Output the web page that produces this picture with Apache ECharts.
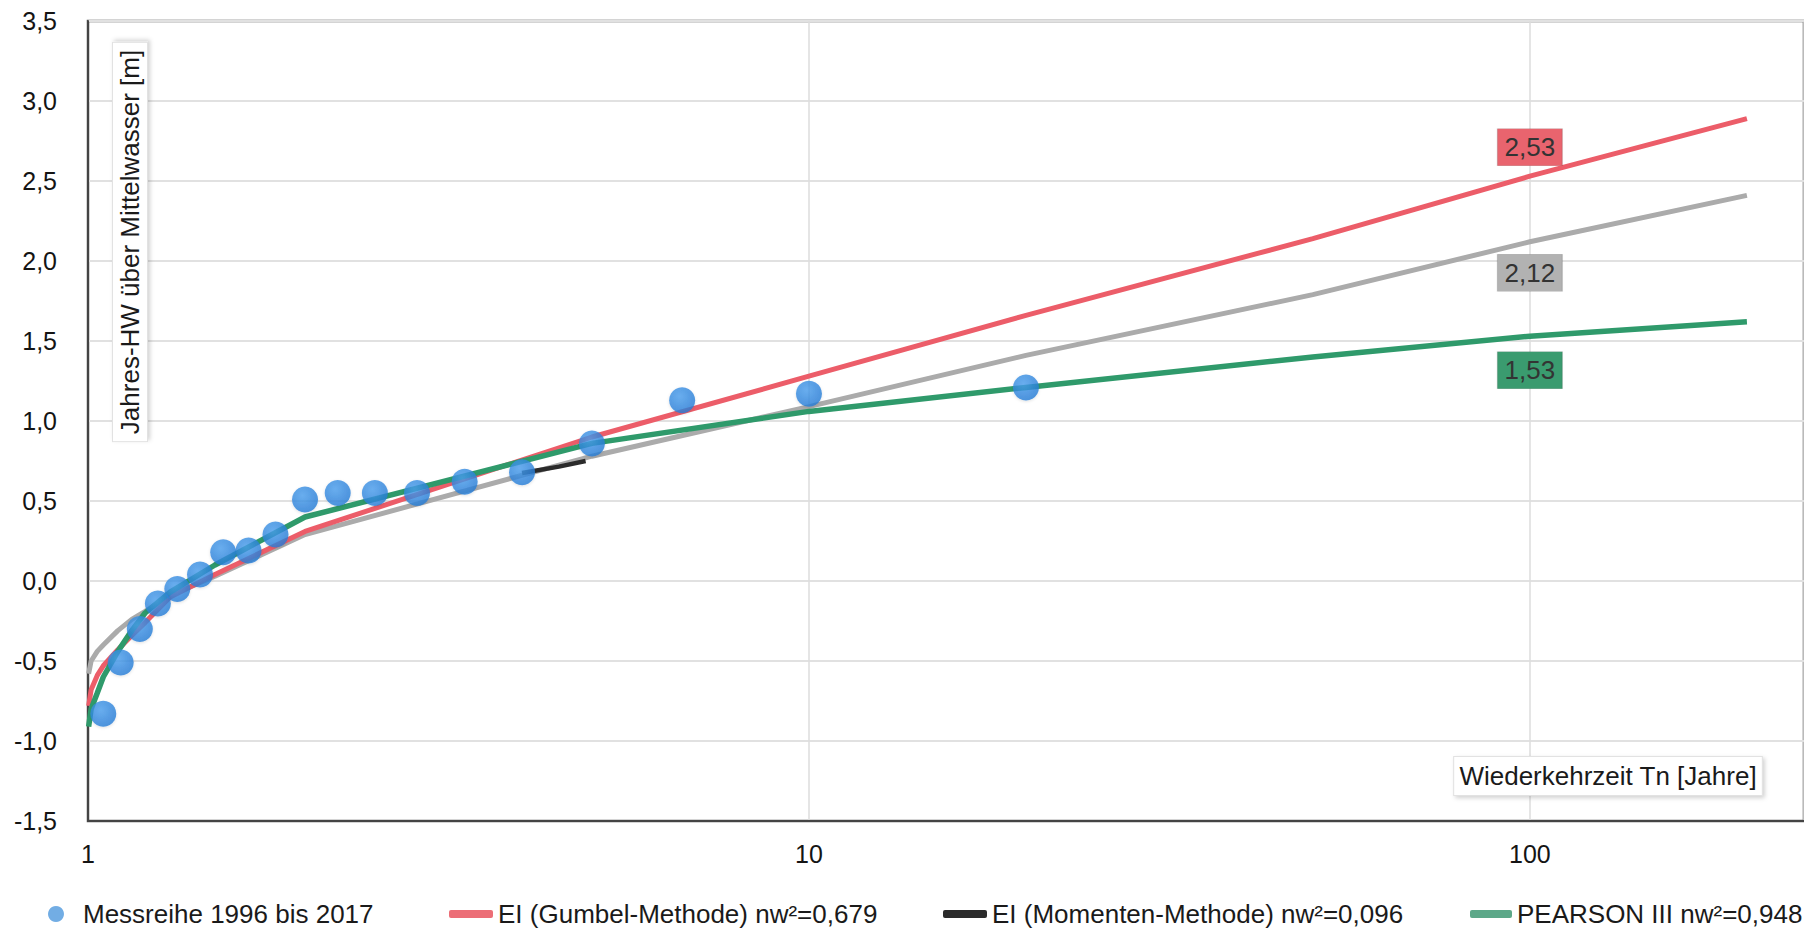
<!DOCTYPE html>
<html>
<head>
<meta charset="utf-8">
<title>Jahres-HW über Mittelwasser</title>
<script src="https://cdn.jsdelivr.net/npm/echarts@6/dist/echarts.min.js"></script>
<style>
  html, body { margin: 0; padding: 0; background: #ffffff; }
  #chart { width: 1804px; height: 928px; }
</style>
</head>
<body>
<div id="chart"></div>
<script>
// Measured annual high water levels, plotted at their return period Tn = (n+1)/m
const returnPeriods = [20, 10, 6.67, 5, 4, 3.33, 2.86, 2.5, 2.22, 2, 1.82, 1.67, 1.54, 1.43, 1.33, 1.25, 1.18, 1.11, 1.05];
const annualHW = [1.21, 1.17, 1.13, 0.86, 0.68, 0.62, 0.55, 0.55, 0.55, 0.51, 0.29, 0.19, 0.18, 0.04, -0.05, -0.14, -0.30, -0.51, -0.83];

// Return periods at which the fitted distributions are evaluated
const curveT = [1.002, 1.01, 1.03, 1.05, 1.1, 1.15, 1.2, 1.3, 1.5, 2, 5, 10, 20, 50, 100, 200];
const gumbelHW = [-0.78, -0.68, -0.59, -0.53, -0.43, -0.34, -0.26, -0.10, 0.04, 0.31, 0.90, 1.28, 1.66, 2.14, 2.53, 2.89];
const compareHW = [-0.58, -0.50, -0.44, -0.40, -0.31, -0.24, -0.19, -0.09, 0.03, 0.29, 0.78, 1.09, 1.41, 1.79, 2.12, 2.41];
const pearsonHW = [-0.91, -0.80, -0.70, -0.60, -0.44, -0.31, -0.20, -0.07, 0.10, 0.40, 0.86, 1.06, 1.21, 1.40, 1.53, 1.62];

// Moment-method curve, visible only as a short stretch
const momentT = [4.0, 4.5, 4.9];
const momentHW = [0.675, 0.715, 0.75];

// Axis ticks
const yMin = -1.5, yMax = 3.5, yStep = 0.5;
const xMin = 1, xMax = 240;

const seriesNames = {
  mess: 'Messreihe 1996 bis 2017',
  gumbel: 'EI (Gumbel-Methode) nw²=0,679',
  moment: 'EI (Momenten-Methode) nw²=0,096',
  pearson: 'PEARSON III nw²=0,948',
  compare: 'EI (Vergleich)'
};

const FONT = '"Liberation Sans", Arial, "DejaVu Sans", sans-serif';
const comma = v => Number(v).toFixed(2).replace('.', ',');
const pairs = (xs, ys) => xs.map((x, i) => [x, ys[i]]);
const at100 = (ys) => ys[curveT.indexOf(100)];

// Coloured value box attached to a curve at Tn = 100
function valueBox(ys, color, offsetY) {
  const v = at100(ys);
  return {
    silent: true,
    symbol: 'rect',
    symbolSize: [65, 37],
    symbolOffset: [0, offsetY],
    itemStyle: { color: color, borderColor: 'rgba(0,0,0,0.12)', borderWidth: 1 },
    label: {
      show: true, position: 'inside', formatter: () => comma(v),
      fontFamily: FONT, fontSize: 26, color: '#333333'
    },
    data: [{ coord: [100, v], value: v }]
  };
}

const chart = echarts.init(document.getElementById('chart'), null, { renderer: 'svg' });

const legendText = { fontFamily: FONT, fontSize: 26, color: '#1a1a1a' };
const legendTop = 896;

chart.setOption({
  animation: false,
  backgroundColor: '#ffffff',
  grid: {
    left: 88, right: 0, top: 21, bottom: 107,
    show: true, borderColor: '#555555', borderWidth: 2.5, backgroundColor: 'transparent'
  },
  xAxis: {
    type: 'log', logBase: 10, min: xMin, max: xMax,
    axisLine: { show: true, onZero: false, lineStyle: { color: '#444444', width: 2 } },
    axisTick: { show: false },
    minorTick: { show: false },
    axisLabel: {
      fontFamily: FONT, fontSize: 25, color: '#141414', margin: 20,
      showMaxLabel: false,
      formatter: v => String(Math.round(v))
    },
    splitLine: { show: true, lineStyle: { color: '#dddddd', width: 1.5 } }
  },
  yAxis: {
    type: 'value', min: yMin, max: yMax, interval: yStep,
    axisLine: { show: true, onZero: false, lineStyle: { color: '#444444', width: 2 } },
    axisTick: { show: false },
    axisLabel: {
      fontFamily: FONT, fontSize: 25, color: '#141414', margin: 31,
      formatter: v => Number(v).toFixed(1).replace('.', ',')
    },
    splitLine: { show: true, lineStyle: { color: '#e1e1e1', width: 2 } }
  },
  legend: [
    {
      data: [seriesNames.mess], left: 43, top: legendTop,
      icon: 'circle', itemWidth: 44, itemHeight: 16,
      itemStyle: { color: '#4f98dd' }, textStyle: legendText, selectedMode: false
    },
    {
      data: [seriesNames.gumbel], left: 444, top: legendTop,
      icon: 'roundRect', itemWidth: 44, itemHeight: 8,
      itemStyle: { color: '#ec6e77' }, textStyle: legendText, selectedMode: false
    },
    {
      data: [seriesNames.moment], left: 938, top: legendTop,
      icon: 'roundRect', itemWidth: 44, itemHeight: 8,
      itemStyle: { color: '#2b2b2b' }, textStyle: legendText, selectedMode: false
    },
    {
      data: [seriesNames.pearson], left: 1465, top: legendTop,
      icon: 'roundRect', itemWidth: 42, itemHeight: 8,
      itemStyle: { color: '#5da889' }, textStyle: legendText, selectedMode: false
    }
  ],
  graphic: [
    {
      type: 'text', x: 130, y: 242, rotation: Math.PI / 2, z: 50,
      style: {
        text: 'Jahres-HW über Mittelwasser [m]',
        font: '26px ' + FONT, fill: '#1a1a1a',
        align: 'center', verticalAlign: 'middle',
        backgroundColor: '#ffffff', borderColor: '#e2e2e2', borderWidth: 1,
        padding: [4, 7],
        shadowColor: 'rgba(0,0,0,0.18)', shadowBlur: 4, shadowOffsetX: 2, shadowOffsetY: 2
      }
    },
    {
      type: 'text', x: 1608, y: 776, z: 50,
      style: {
        text: 'Wiederkehrzeit Tn [Jahre]',
        font: '26px ' + FONT, fill: '#1a1a1a',
        align: 'center', verticalAlign: 'middle',
        backgroundColor: '#ffffff', borderColor: '#e2e2e2', borderWidth: 1,
        padding: [6, 5],
        shadowColor: 'rgba(0,0,0,0.18)', shadowBlur: 4, shadowOffsetX: 2, shadowOffsetY: 2
      }
    }
  ],
  series: [
    {
      name: seriesNames.compare, type: 'line', z: 2,
      data: pairs(curveT, compareHW),
      showSymbol: false, smooth: false,
      color: '#ababab',
      lineStyle: { color: '#ababab', width: 5 },
      markPoint: valueBox(compareHW, '#b2b2b2', 31)
    },
    {
      name: seriesNames.moment, type: 'line', z: 3,
      data: pairs(momentT, momentHW),
      showSymbol: false,
      color: '#2b2b2b',
      lineStyle: { color: '#2b2b2b', width: 4.5 }
    },
    {
      name: seriesNames.gumbel, type: 'line', z: 4,
      data: pairs(curveT, gumbelHW),
      showSymbol: false,
      color: '#ec5d69',
      lineStyle: { color: '#ec5d69', width: 5 },
      markPoint: valueBox(gumbelHW, '#e9646e', -29)
    },
    {
      name: seriesNames.pearson, type: 'line', z: 5,
      data: pairs(curveT, pearsonHW),
      showSymbol: false,
      color: '#2f9a6b',
      lineStyle: { color: '#2f9a6b', width: 5.5 },
      markPoint: valueBox(pearsonHW, '#3a9b6f', 34)
    },
    {
      name: seriesNames.mess, type: 'scatter', z: 10,
      data: pairs(returnPeriods, annualHW),
      symbol: 'circle', symbolSize: 26,
      itemStyle: {
        color: {
          type: 'radial', x: 0.4, y: 0.35, r: 0.75,
          colorStops: [
            { offset: 0, color: '#4a9eee' },
            { offset: 1, color: '#1f77d3' }
          ]
        },
        shadowColor: 'rgba(0,0,0,0.15)', shadowBlur: 3, shadowOffsetY: 1
      }
    }
  ]
});
</script>
</body>
</html>
